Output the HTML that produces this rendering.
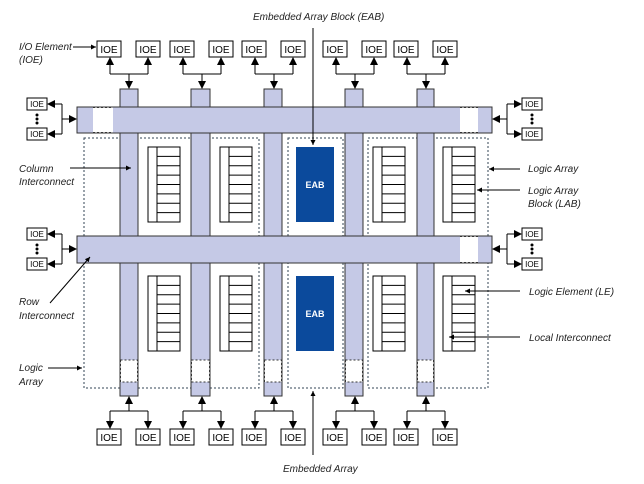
<!DOCTYPE html>
<html><head><style>body{margin:0;background:#fff}svg{display:block}</style></head><body>
<svg width="644" height="484" viewBox="0 0 644 484" xmlns="http://www.w3.org/2000/svg" font-family="Liberation Sans, sans-serif">
<defs>
<marker id="a" markerWidth="8" markerHeight="8" refX="7" refY="4" orient="auto" markerUnits="userSpaceOnUse"><path d="M0,0L8,4L0,8z" fill="#000"/></marker>
<marker id="s" markerWidth="5" markerHeight="5" refX="5" refY="2.5" orient="auto" markerUnits="userSpaceOnUse"><path d="M0,0L5,2.5L0,5z" fill="#000"/></marker>
</defs>
<g fill="none" stroke="#345" stroke-width="1" stroke-dasharray="2,2">
<rect x="84" y="138" width="175" height="250"/>
<rect x="288" y="138" width="55" height="250"/>
<rect x="368" y="138" width="120" height="250"/>
</g>
<g id="cols">
</g>
<g fill="#c5c9e6" stroke="#333" stroke-width="1">
<rect x="120" y="89" width="18" height="307"/>
<rect x="191" y="89" width="19" height="307"/>
<rect x="264" y="89" width="18" height="307"/>
<rect x="345" y="89" width="18" height="307"/>
<rect x="417" y="89" width="17" height="307"/>
</g>
<g fill="#fff" stroke="#333" stroke-dasharray="2,2">
<rect x="120.5" y="360" width="17" height="22"/>
<rect x="191.5" y="360" width="18" height="22"/>
<rect x="264.5" y="360" width="17" height="22"/>
<rect x="345.5" y="360" width="17" height="22"/>
<rect x="417.5" y="360" width="16" height="22"/>
</g>
<g fill="#c5c9e6" stroke="#333">
<rect x="77" y="107" width="415" height="26"/>
<rect x="77" y="236" width="415" height="27"/>
</g>
<g fill="#fff" stroke="#333" stroke-dasharray="2,2">
<rect x="93" y="107.5" width="20" height="25" stroke="none"/>
<line x1="93" y1="107.5" x2="113" y2="107.5"/><line x1="93" y1="132.5" x2="113" y2="132.5"/>
<rect x="460" y="107.5" width="18" height="25" stroke="none"/>
<line x1="460" y1="107.5" x2="478" y2="107.5"/><line x1="460" y1="132.5" x2="478" y2="132.5"/>
<rect x="460" y="236.5" width="18" height="26" stroke="none"/>
<line x1="460" y1="236.5" x2="478" y2="236.5"/><line x1="460" y1="262.5" x2="478" y2="262.5"/>
</g>
<g fill="#c5c9e6" stroke="none">
<rect x="120.5" y="133.5" width="17" height="102"/>
<rect x="191.5" y="133.5" width="18" height="102"/>
<rect x="264.5" y="133.5" width="17" height="102"/>
<rect x="345.5" y="133.5" width="17" height="102"/>
<rect x="417.5" y="133.5" width="16" height="102"/>
</g>
<g stroke="#333">
<line x1="120" y1="133" x2="120" y2="236"/><line x1="138" y1="133" x2="138" y2="236"/>
<line x1="191" y1="133" x2="191" y2="236"/><line x1="210" y1="133" x2="210" y2="236"/>
<line x1="264" y1="133" x2="264" y2="236"/><line x1="282" y1="133" x2="282" y2="236"/>
<line x1="345" y1="133" x2="345" y2="236"/><line x1="363" y1="133" x2="363" y2="236"/>
<line x1="417" y1="133" x2="417" y2="236"/><line x1="434" y1="133" x2="434" y2="236"/>
</g>
<g fill="#fff" stroke="#000" stroke-width="1">
<g id="lab"><rect x="148" y="147" width="32" height="75"/><line x1="157" y1="147" x2="157" y2="222"/>
<line x1="157" y1="156.4" x2="180" y2="156.4"/><line x1="157" y1="165.8" x2="180" y2="165.8"/><line x1="157" y1="175.1" x2="180" y2="175.1"/><line x1="157" y1="184.5" x2="180" y2="184.5"/><line x1="157" y1="193.9" x2="180" y2="193.9"/><line x1="157" y1="203.3" x2="180" y2="203.3"/><line x1="157" y1="212.6" x2="180" y2="212.6"/></g>
<use href="#lab" x="72"/><use href="#lab" x="225"/><use href="#lab" x="295"/>
<use href="#lab" y="129"/><use href="#lab" x="72" y="129"/><use href="#lab" x="225" y="129"/><use href="#lab" x="295" y="129"/>
</g>
<rect x="296" y="147" width="38" height="75" fill="#0b4a9c"/>
<rect x="296" y="276" width="38" height="75" fill="#0b4a9c"/>
<text x="315" y="188" font-size="9" fill="#fff" text-anchor="middle" font-weight="bold">EAB</text>
<text x="315" y="317" font-size="9" fill="#fff" text-anchor="middle" font-weight="bold">EAB</text>
<g font-size="10" text-anchor="middle">
<g id="top"><rect x="97" y="41" width="24" height="16" fill="#fff" stroke="#000"/><text x="109" y="53">IOE</text>
<rect x="136" y="41" width="24" height="16" fill="#fff" stroke="#000"/><text x="148" y="53">IOE</text>
<path d="M110,74H148M110,74V58M148,74V58M129,74V88" stroke="#000" fill="none" marker-end="url(#a)"/>
<path d="M110,66V58" stroke="#000" marker-end="url(#a)"/><path d="M148,66V58" stroke="#000" marker-end="url(#a)"/>
</g>
<use href="#top" x="73"/><use href="#top" x="145"/><use href="#top" x="226"/><use href="#top" x="297"/>
<g id="bot"><rect x="97" y="429" width="24" height="16" fill="#fff" stroke="#000"/><text x="109" y="441">IOE</text>
<rect x="136" y="429" width="24" height="16" fill="#fff" stroke="#000"/><text x="148" y="441">IOE</text>
<path d="M110,411H148M129,411V397" stroke="#000" fill="none" marker-end="url(#a)"/>
<path d="M110,411V428" stroke="#000" marker-end="url(#a)"/><path d="M148,411V428" stroke="#000" marker-end="url(#a)"/>
</g>
<use href="#bot" x="73"/><use href="#bot" x="145"/><use href="#bot" x="226"/><use href="#bot" x="297"/>
</g>
<g font-size="8" text-anchor="middle">
<g id="lio"><rect x="27" y="98" width="20" height="12" fill="#fff" stroke="#000"/><text x="37" y="107">IOE</text>
<rect x="27" y="128" width="20" height="12" fill="#fff" stroke="#000"/><text x="37" y="137">IOE</text>
<circle cx="37" cy="115" r="1.5"/><circle cx="37" cy="119" r="1.5"/><circle cx="37" cy="123" r="1.5"/>
<path d="M62,104V134M62,104H48M62,134H48" stroke="#000" fill="none"/>
<path d="M62,104H48" stroke="#000" marker-end="url(#a)"/><path d="M62,134H48" stroke="#000" marker-end="url(#a)"/>
<path d="M62,119H76" stroke="#000" marker-end="url(#a)"/></g>
<use href="#lio" y="130"/>
<g id="rio"><rect x="522" y="98" width="20" height="12" fill="#fff" stroke="#000"/><text x="532" y="107">IOE</text>
<rect x="522" y="128" width="20" height="12" fill="#fff" stroke="#000"/><text x="532" y="137">IOE</text>
<circle cx="532" cy="115" r="1.5"/><circle cx="532" cy="119" r="1.5"/><circle cx="532" cy="123" r="1.5"/>
<path d="M507,104V134" stroke="#000" fill="none"/>
<path d="M507,104H521" stroke="#000" marker-end="url(#a)"/><path d="M507,134H521" stroke="#000" marker-end="url(#a)"/>
<path d="M507,119H493" stroke="#000" marker-end="url(#a)"/></g>
<use href="#rio" y="130"/>
</g>
<g font-size="10" font-style="italic" fill="#222">
<text x="253" y="20">Embedded Array Block (EAB)</text>
<text x="283" y="472">Embedded Array</text>
<text x="19" y="50">I/O Element</text><text x="19" y="63">(IOE)</text>
<text x="19" y="172">Column</text><text x="19" y="185">Interconnect</text>
<text x="19" y="305">Row</text><text x="19" y="319">Interconnect</text>
<text x="19" y="371">Logic</text><text x="19" y="385">Array</text>
<text x="528" y="172">Logic Array</text>
<text x="528" y="194">Logic Array</text><text x="528" y="207">Block (LAB)</text>
<text x="529" y="295">Logic Element (LE)</text>
<text x="529" y="341">Local Interconnect</text>
</g>
<g stroke="#000" fill="none">
<path d="M313,28V145" marker-end="url(#s)"/>
<path d="M313,455V391" marker-end="url(#s)"/>
<path d="M73,47H96" marker-end="url(#s)"/>
<path d="M70,168H131" marker-end="url(#s)"/>
<path d="M50,303L90,257" marker-end="url(#s)"/>
<path d="M48,368H82" marker-end="url(#s)"/>
<path d="M520,169H489" marker-end="url(#s)"/>
<path d="M520,190H477" marker-end="url(#s)"/>
<path d="M520,291H465" marker-end="url(#s)"/>
<path d="M520,337H449" marker-end="url(#s)"/>
</g>
</svg>
</body></html>
